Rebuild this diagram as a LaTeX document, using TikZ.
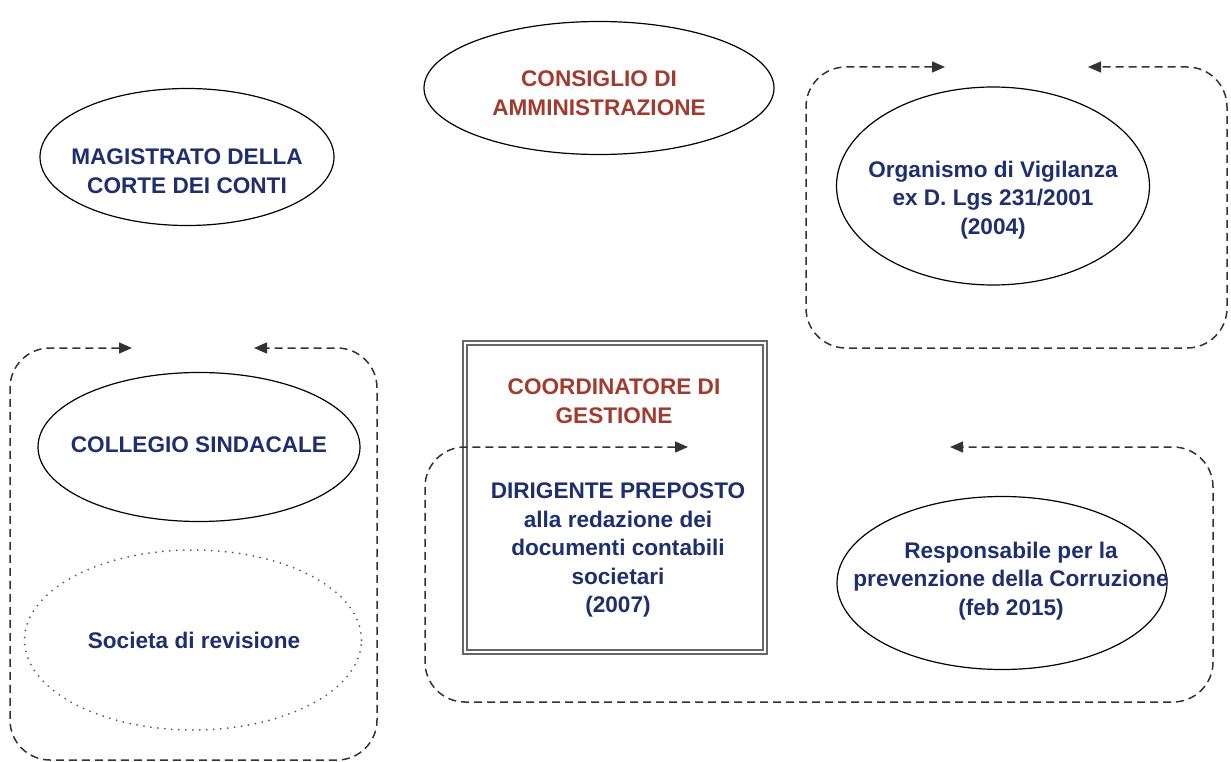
\documentclass[tikz,border=0pt]{standalone}
\usepackage{fontspec}
\setmainfont{Liberation Sans}
\usetikzlibrary{shapes.geometric,arrows.meta}
\definecolor{navy}{HTML}{1F2F6E}
\definecolor{brick}{HTML}{A23B2F}
\begin{document}
\begin{tikzpicture}[x=1pt,y=-1pt,
  ell/.style={draw=black, line width=1.2pt, ellipse, inner sep=0pt},
  dotell/.style={draw=black!65, ellipse, inner sep=0pt, line width=2pt, line cap=round, dash pattern=on 0pt off 7pt},
  txt/.style={font=\fontsize{22.6}{28.5}\selectfont\bfseries, text=navy, align=center, inner sep=0pt},
  rtxt/.style={txt, text=brick},
  loopline/.style={draw=black!80, dash pattern=on 8pt off 5pt, line width=1.5pt, rounded corners=40pt,
    {Triangle[length=13pt,width=11pt]}-{Triangle[length=13pt,width=11pt]}},
  dbox/.style={draw=black!60, double, double distance=2.4pt, line width=1.6pt, inner sep=0pt}
]
\useasboundingbox (0,0) rectangle (1231,762);

% ellipses
\node[ell, minimum width=294pt, minimum height=137pt] (mag) at (187,157) {};
\node[txt] (magt) at (187,171) {MAGISTRATO DELLA\\CORTE DEI CONTI};

\node[ell, minimum width=350pt, minimum height=133pt] (cda) at (599,88) {};
\node[rtxt] (cdat) at (599,93) {CONSIGLIO DI\\AMMINISTRAZIONE};

\node[ell, minimum width=313pt, minimum height=198pt] (odv) at (993,186) {};
\node[txt] (odvt) at (993,200) {Organismo di Vigilanza\\ex D. Lgs 231/2001\\(2004)};

\node[ell, minimum width=322pt, minimum height=149pt] (col) at (199,447) {};
\node[txt] (colt) at (199,445) {COLLEGIO SINDACALE};

\node[dotell, minimum width=337pt, minimum height=180pt] (soc) at (193,640) {};
\node[txt] (soct) at (194,640) {Societa di revisione};

\node[ell, minimum width=330pt, minimum height=173pt] (rpc) at (1002,583) {};
\node[txt] (rpct) at (1011,581) {Responsabile per la\\prevenzione della Corruzione\\(feb 2015)};

% double box
\node[dbox, minimum width=300pt, minimum height=309pt] (cdg) at (615,497.5) {};
\node[rtxt] (cdgt) at (614,401) {COORDINATORE DI\\GESTIONE};
\node[txt] (dirt) at (618,550) {DIRIGENTE PREPOSTO\\alla redazione dei\\documenti contabili\\societari\\(2007)};

% dashed loops
\coordinate (tr1) at (945,67);
\coordinate (tr2) at (1088,67);
\draw[loopline] (tr1) -- (806,67) -- (806,348) -- (1227,348) -- (1227,67) -- (tr2);

\coordinate (l1) at (132,348);
\coordinate (l2) at (254,348);
\draw[loopline] (l1) -- (10,348) -- (10,760) -- (377,760) -- (377,348) -- (l2);

\coordinate (b1) at (688,447);
\coordinate (b2) at (950,447);
\draw[loopline] (b1) -- (425,447) -- (425,702) -- (1213,702) -- (1213,447) -- (b2);
\end{tikzpicture}
\end{document}
